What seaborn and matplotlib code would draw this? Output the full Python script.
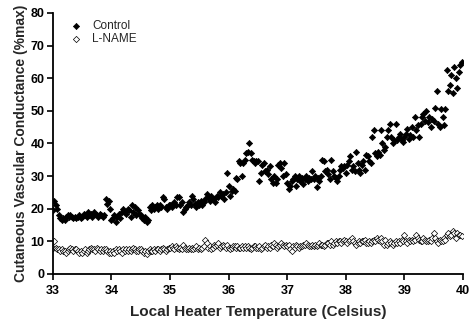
import numpy as np
import pandas as pd
import matplotlib
matplotlib.use("Agg")
import matplotlib.pyplot as plt
import seaborn as sns

# Local heater temperature (Celsius), 0.025 C steps from 33.000 to 39.975
temperature = [
    33.000, 33.025, 33.050, 33.075, 33.100, 33.125, 33.150, 33.175, 33.200, 33.225,
    33.250, 33.275, 33.300, 33.325, 33.350, 33.375, 33.400, 33.425, 33.450, 33.475,
    33.500, 33.525, 33.550, 33.575, 33.600, 33.625, 33.650, 33.675, 33.700, 33.725,
    33.750, 33.775, 33.800, 33.825, 33.850, 33.875, 33.900, 33.925, 33.950, 33.975,
    34.000, 34.025, 34.050, 34.075, 34.100, 34.125, 34.150, 34.175, 34.200, 34.225,
    34.250, 34.275, 34.300, 34.325, 34.350, 34.375, 34.400, 34.425, 34.450, 34.475,
    34.500, 34.525, 34.550, 34.575, 34.600, 34.625, 34.650, 34.675, 34.700, 34.725,
    34.750, 34.775, 34.800, 34.825, 34.850, 34.875, 34.900, 34.925, 34.950, 34.975,
    35.000, 35.025, 35.050, 35.075, 35.100, 35.125, 35.150, 35.175, 35.200, 35.225,
    35.250, 35.275, 35.300, 35.325, 35.350, 35.375, 35.400, 35.425, 35.450, 35.475,
    35.500, 35.525, 35.550, 35.575, 35.600, 35.625, 35.650, 35.675, 35.700, 35.725,
    35.750, 35.775, 35.800, 35.825, 35.850, 35.875, 35.900, 35.925, 35.950, 35.975,
    36.000, 36.025, 36.050, 36.075, 36.100, 36.125, 36.150, 36.175, 36.200, 36.225,
    36.250, 36.275, 36.300, 36.325, 36.350, 36.375, 36.400, 36.425, 36.450, 36.475,
    36.500, 36.525, 36.550, 36.575, 36.600, 36.625, 36.650, 36.675, 36.700, 36.725,
    36.750, 36.775, 36.800, 36.825, 36.850, 36.875, 36.900, 36.925, 36.950, 36.975,
    37.000, 37.025, 37.050, 37.075, 37.100, 37.125, 37.150, 37.175, 37.200, 37.225,
    37.250, 37.275, 37.300, 37.325, 37.350, 37.375, 37.400, 37.425, 37.450, 37.475,
    37.500, 37.525, 37.550, 37.575, 37.600, 37.625, 37.650, 37.675, 37.700, 37.725,
    37.750, 37.775, 37.800, 37.825, 37.850, 37.875, 37.900, 37.925, 37.950, 37.975,
    38.000, 38.025, 38.050, 38.075, 38.100, 38.125, 38.150, 38.175, 38.200, 38.225,
    38.250, 38.275, 38.300, 38.325, 38.350, 38.375, 38.400, 38.425, 38.450, 38.475,
    38.500, 38.525, 38.550, 38.575, 38.600, 38.625, 38.650, 38.675, 38.700, 38.725,
    38.750, 38.775, 38.800, 38.825, 38.850, 38.875, 38.900, 38.925, 38.950, 38.975,
    39.000, 39.025, 39.050, 39.075, 39.100, 39.125, 39.150, 39.175, 39.200, 39.225,
    39.250, 39.275, 39.300, 39.325, 39.350, 39.375, 39.400, 39.425, 39.450, 39.475,
    39.500, 39.525, 39.550, 39.575, 39.600, 39.625, 39.650, 39.675, 39.700, 39.725,
    39.750, 39.775, 39.800, 39.825, 39.850, 39.875, 39.900, 39.925, 39.950, 39.975,
]

# Cutaneous vascular conductance (%max), control site
control = [
    19.5, 22.5, 21.0, 20.0,   18.0, 17.0, 16.5, 17.0,   16.5, 17.5, 18.0, 17.5,
    18.0, 17.5, 17.0, 17.5,   17.0, 17.5, 18.0, 17.0,   17.5, 18.5, 18.0, 17.5,
    19.0, 18.0, 18.5, 17.5,   19.0, 18.5, 18.0, 17.5,   18.5, 18.0, 17.5, 18.0,
    23.0, 21.5, 22.5, 20.0,   16.5, 17.0, 18.0, 16.0,   17.5, 18.5, 17.0, 19.0,
    20.0, 19.0, 18.5, 20.0,   19.5, 17.5, 21.0, 19.0,   20.5, 18.0, 19.5, 18.5,
    18.0, 17.0, 16.5, 17.5,   16.0, 16.5, 20.5, 19.5,   21.0, 20.0, 20.5, 21.0,
    20.0, 21.0, 20.5, 23.5,   23.0, 20.5, 20.0, 21.0,   21.0, 20.5, 21.5, 22.0,
    21.0, 23.5, 23.5, 21.0,   22.0, 19.0, 20.0, 20.5,   21.0, 22.0, 21.0, 24.0,
    23.0, 21.5, 20.5, 22.0,   21.0, 22.5, 21.0, 22.0,   23.0, 24.5, 23.5, 22.5,
    24.0, 23.0, 23.0, 22.0,   24.0, 23.5, 25.0, 24.0,   24.5, 23.0, 25.0, 31.0,
    27.0, 24.0, 25.5, 26.0,   25.5, 29.5, 29.0, 34.5,   34.0, 30.0, 34.0, 35.0,
    37.0, 37.5, 40.0, 37.0,   35.0, 34.5, 34.0, 34.5,   34.5, 28.5, 31.0, 33.5,
    34.0, 31.5, 32.0, 30.5,   33.0, 29.0, 28.0, 30.0,   28.0, 29.0, 33.5, 34.0,
    32.5, 30.0, 34.0, 30.5,   28.0, 26.0, 27.0, 28.5,   29.0, 30.0, 27.0, 29.0,
    30.0, 28.5, 29.5, 27.5,   29.0, 30.0, 28.5, 29.5,   29.0, 31.5, 29.0, 30.0,
    26.5, 29.5, 28.5, 30.0,   35.0, 34.5, 31.5, 32.0,   30.5, 29.0, 35.0, 31.5,
    30.0, 29.5, 28.5, 30.0,   32.0, 33.0, 32.5, 33.0,   31.0, 33.5, 34.5, 36.0,
    32.0, 33.0, 31.5, 37.5,   34.0, 32.0, 31.0, 33.5,   34.5, 32.0, 36.5, 36.0,
    34.5, 34.0, 42.0, 44.0,   37.0, 36.0, 37.5, 36.5,   44.0, 40.0, 38.0, 39.0,
    42.0, 44.0, 46.0, 42.0,   40.0, 41.0, 46.0, 41.0,   42.0, 43.0, 41.0, 40.5,
    42.0, 43.0, 44.5, 41.5,   42.5, 45.0, 42.0, 48.0,   44.0, 45.5, 42.0, 46.0,
    48.0, 49.0, 47.0, 50.0,   46.5, 48.0, 45.0, 47.5,   47.0, 51.0, 56.0, 46.0,
    45.0, 50.5, 48.0, 45.5,   50.5, 62.5, 56.0, 58.0,   61.0, 55.5, 63.5, 60.0,
    57.0, 62.0, 64.0, 65.0,
]

# Cutaneous vascular conductance (%max), L-NAME site
lname = [
    8.0, 10.0, 8.0, 7.5,   7.5, 7.0, 7.5, 7.0,   7.0, 6.5, 7.0, 7.5,
    8.0, 7.5, 7.0, 7.5,    7.5, 7.0, 6.5, 7.0,   6.5, 7.0, 7.5, 6.5,
    7.0, 7.5, 8.0, 7.5,    7.5, 7.0, 8.0, 7.5,   7.0, 7.5, 7.0, 7.5,
    7.5, 7.0, 6.5, 7.0,    6.5, 7.0, 6.5, 7.5,   7.0, 7.5, 7.0, 6.5,
    7.5, 7.0, 7.5, 7.0,    7.5, 7.0, 7.5, 8.0,   7.5, 7.0, 7.0, 7.5,
    7.5, 7.0, 6.5, 7.0,    6.0, 7.0, 7.5, 7.0,   7.0, 7.5, 7.0, 7.5,
    7.5, 7.0, 7.5, 8.0,    7.5, 7.0, 7.5, 8.0,   8.0, 8.5, 8.0, 7.5,
    8.5, 8.0, 7.5, 8.0,    7.5, 9.0, 8.0, 7.5,   7.5, 8.0, 7.5, 8.0,
    7.5, 8.0, 8.5, 7.5,    8.0, 7.5, 8.0, 8.5,   10.5, 9.5, 8.0, 8.5,
    7.5, 8.0, 9.0, 8.5,    9.0, 9.5, 8.0, 8.5,   9.0, 8.5, 8.0, 9.0,
    8.0, 7.5, 8.0, 8.5,    8.5, 8.0, 8.5, 8.0,   8.0, 8.5, 8.0, 8.5,
    8.0, 8.5, 8.0, 7.5,    8.0, 8.5, 8.5, 8.0,   8.0, 8.5, 7.5, 8.0,
    8.5, 9.0, 8.0, 8.5,    8.0, 9.0, 8.5, 9.5,   9.0, 8.0, 8.5, 9.0,
    9.5, 9.0, 8.5, 9.0,    8.5, 9.0, 7.5, 7.0,   8.5, 8.0, 9.0, 8.5,
    8.0, 8.5, 8.5, 9.0,    9.0, 9.5, 9.0, 8.5,   8.5, 9.0, 8.5, 9.0,
    8.5, 9.0, 9.5, 9.0,    9.0, 8.5, 9.0, 9.5,   9.5, 9.0, 10.0, 9.0,
    9.5, 10.0, 9.5, 10.0,  10.0, 9.5, 10.0, 10.5, 10.0, 9.5, 10.0, 10.5,
    11.0, 10.0, 9.5, 9.0,  9.5, 10.0, 9.5, 10.0, 10.0, 10.5, 9.5, 9.5,
    10.0, 9.5, 10.0, 10.5, 10.0, 11.0, 10.5, 10.0, 11.0, 10.0, 9.0, 10.5,
    9.0, 9.5, 10.0, 9.5,   9.0, 9.5, 10.0, 9.5,  10.0, 9.5, 10.5, 10.0,
    12.0, 10.0, 9.5, 10.5, 10.0, 10.5, 10.0, 10.5, 12.0, 11.0, 10.5, 10.0,
    10.0, 11.0, 10.5, 10.0, 10.0, 10.5, 10.0, 11.0, 12.5, 11.0, 10.0, 9.5,
    10.5, 10.0, 10.0, 11.0, 10.5, 12.0, 12.5, 11.5, 12.0, 13.0, 12.5, 11.0,
    12.5, 12.0, 12.0, 11.5,
]

series_names = ["Control", "L-NAME"]
x_ticks = [33, 34, 35, 36, 37, 38, 39, 40]
y_ticks = [0, 10, 20, 30, 40, 50, 60, 70, 80]

df_control = pd.DataFrame({"temp": temperature, "cvc": control})
df_lname = pd.DataFrame({"temp": temperature, "cvc": lname})

sns.set_style("ticks")
plt.rcParams["font.family"] = ["Liberation Sans", "DejaVu Sans"]

fig = plt.figure(figsize=(4.72, 3.23), dpi=100)
ax = fig.add_axes([0.112, 0.152, 0.869, 0.808])

sns.scatterplot(data=df_control, x="temp", y="cvc", ax=ax, marker="D",
                s=10, color="black", edgecolor="black", linewidth=0.5,
                label=series_names[0], zorder=3)
sns.scatterplot(data=df_lname, x="temp", y="cvc", ax=ax, marker="D",
                s=10, facecolor="white", edgecolor="black", linewidth=0.5,
                label=series_names[1], zorder=2)

ax.set_xlim(33, 40)
ax.set_ylim(0, 80)
ax.set_xticks(x_ticks)
ax.set_yticks(y_ticks)
ax.set_xticklabels([str(t) for t in x_ticks], fontsize=9, fontweight="bold")
ax.set_yticklabels([str(t) for t in y_ticks], fontsize=9, fontweight="bold")
ax.tick_params(axis="x", direction="out", length=4, width=1.2, pad=4,
               colors="black")
ax.tick_params(axis="y", direction="out", length=4, width=1.2, pad=2,
               colors="black")
for side in ("left", "bottom"):
    ax.spines[side].set_linewidth(1.3)
    ax.spines[side].set_color("black")
sns.despine(ax=ax)

ax.set_xlabel("Local Heater Temperature (Celsius)", fontsize=11,
              fontweight="bold", labelpad=6)
ax.set_ylabel("Cutaneous Vascular Conductance (%max)", fontsize=10,
              fontweight="bold", labelpad=2)

leg = ax.legend(loc="upper left", bbox_to_anchor=(0.01, 1.0), frameon=False,
                fontsize=8.5, handletextpad=0.4, labelspacing=0.1,
                markerscale=1.0, borderaxespad=0.2)

fig.savefig("out.png", dpi=100)
